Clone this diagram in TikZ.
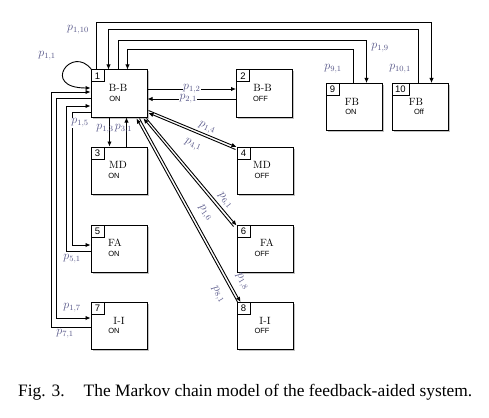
\documentclass[tikz,border=0pt]{standalone}
\usepackage{fontspec}
\newfontfamily\capfont{Liberation Serif}
\newfontfamily\sansf{Liberation Sans}
\usetikzlibrary{arrows.meta,calc,shadows}
\definecolor{labc}{RGB}{85,85,135}
\begin{document}
\begin{tikzpicture}[x=1pt,y=-1pt,
 state/.style={draw,line width=1pt,fill=white,minimum width=56pt,minimum height=47pt,inner sep=0pt,
   drop shadow={shadow xshift=1.5pt,shadow yshift=-1.5pt,fill=black!40,opacity=0.6}},
 num/.style={draw,line width=0.8pt,fill=white,minimum width=13pt,minimum height=12pt,inner sep=0pt,anchor=north west,font=\sansf\fontsize{9.5}{9.5}\selectfont},
 ttl/.style={inner sep=0pt,font=\fontsize{10.5}{10.5}\selectfont},
 sub/.style={inner sep=0pt,font=\sansf\fontsize{7.5}{7.5}\selectfont},
 lab/.style={text=labc,font=\fontsize{11.5}{11.5}\selectfont,inner sep=0pt},
 wlab/.style={lab,fill=white,inner sep=0.5pt},
 arr/.style={line width=0.9pt,-{Latex[length=5pt,width=4.5pt]}}]
\useasboundingbox (0,0) rectangle (489,417);

% states
\node[state] (b1) at (119,93.5) {};
\node[state] (b2) at (264.5,93.5) {};
\node[state] (b3) at (119,170.5) {};
\node[state] (b4) at (265,170.5) {};
\node[state] (b5) at (119,248.5) {};
\node[state] (b6) at (265,248.5) {};
\node[state] (b7) at (119,326) {};
\node[state] (b8) at (265,326) {};
\node[state] (b9) at (354,107) {};
\node[state] (b10) at (420,107) {};

\node[num] (n1) at (b1.north west) {1};
\node[num] (n2) at (b2.north west) {2};
\node[num] (n3) at (b3.north west) {3};
\node[num] (n4) at (b4.north west) {4};
\node[num] (n5) at (b5.north west) {5};
\node[num] (n6) at (b6.north west) {6};
\node[num] (n7) at (b7.north west) {7};
\node[num] (n8) at (b8.north west) {8};
\node[num] (n9) at (b9.north west) {9};
\node[num,minimum width=17pt] (n10) at (b10.north west) {10};

\node[ttl] (t1) at ($(b1.north)+(-1,18.5)$) {B-B};
\node[sub] (s1) at ($(b1.north)+(-4,29)$) {ON};
\node[ttl] (t2) at ($(b2.north)+(-2,18.5)$) {B-B};
\node[sub] (s2) at ($(b2.north)+(-4,29)$) {OFF};
\node[ttl] (t3) at ($(b3.north)+(-1,18.5)$) {MD};
\node[sub] (s3) at ($(b3.north)+(-5,29)$) {ON};
\node[ttl] (t4) at ($(b4.north)+(-3,18.5)$) {MD};
\node[sub] (s4) at ($(b4.north)+(-3,29)$) {OFF};
\node[ttl] (t5) at ($(b5.north)+(-4,18.5)$) {FA};
\node[sub] (s5) at ($(b5.north)+(-5,29)$) {ON};
\node[ttl] (t6) at ($(b6.north)+(2,18.5)$) {FA};
\node[sub] (s6) at ($(b6.north)+(-3,29)$) {OFF};
\node[ttl] (t7) at ($(b7.north)+(0,18.5)$) {I-I};
\node[sub] (s7) at ($(b7.north)+(-5,29)$) {ON};
\node[ttl] (t8) at ($(b8.north)+(0,18.5)$) {I-I};
\node[sub] (s8) at ($(b8.north)+(-3,29)$) {OFF};
\node[ttl] (t9) at ($(b9.north)+(-2,18.5)$) {FB};
\node[sub] (s9) at ($(b9.north)+(-3,29)$) {ON};
\node[ttl] (t10) at ($(b10.north)+(-4,18.5)$) {FB};
\node[sub] (s10) at ($(b10.north)+(-1,29)$) {Off};

% self loop
\draw[arr] ($(b1.north west)+(1,0)$) .. controls (72,44) and (40,88) .. ($(b1.west)+(0,-5.5)$);
\node[lab] (l11) at (47,56) {$p_{1,1}$};

% 1 <-> 2
\draw[arr] ($(b1.east)+(0,-4.5)$) -- node[wlab] (l12) {$p_{1,2}$} ($(b2.west)+(0,-4.5)$);
\draw[arr] ($(b2.west)+(0,5.5)$) -- node[wlab,pos=0.54] (l21) {$p_{2,1}$} ($(b1.east)+(0,5.5)$);

% 1 <-> 3
\draw[arr] ($(b1.south west)+(19,0)$) -- ($(b3.north west)+(19,0)$);
\draw[arr] ($(b3.north west)+(36,0)$) -- ($(b1.south west)+(36,0)$);
\node[lab] (l13) at (105,129) {$p_{1,3}$};
\node[lab] (l31) at (123.5,129) {$p_{3,1}$};

% top: 9 and 10
\draw[arr] ($(b1.north west)+(6,0)$) -- ++(0,-47) -| ($(b10.north west)+(40,0)$);
\draw[arr] ($(b10.north west)+(27,0)$) -- ++(0,-54) -| ($(b1.north west)+(18,0)$);
\draw[arr] ($(b1.north west)+(28,0)$) -- ++(0,-29) -| ($(b9.north west)+(41,0)$);
\draw[arr] ($(b9.north west)+(28,0)$) -- ++(0,-34) -| ($(b1.north west)+(37,0)$);
\node[lab] (l110) at (78,30) {$p_{1,10}$};
\node[lab] (l101) at (400,69) {$p_{10,1}$};
\node[lab] (l19) at (380,48) {$p_{1,9}$};
\node[lab] (l91) at (333,69) {$p_{9,1}$};

% left: 5 and 7
\draw[arr] ($(b7.west)+(0,1)$) -- ++(-39,0) |- ($(b1.west)+(0,-1.5)$);
\draw[arr] ($(b1.west)+(0,4.5)$) -- ++(-34,0) |- ($(b7.west)+(0,-8)$);
\draw[arr] ($(b5.west)+(0,2.5)$) -- ++(-24,0) |- ($(b1.west)+(0,12.5)$);
\draw[arr] ($(b1.west)+(0,18.5)$) -- ++(-18,0) |- ($(b5.west)+(0,-3.5)$);
\node[wlab] (l15) at (80,123) {$p_{1,5}$};
\node[lab] (l51) at (72,259) {$p_{5,1}$};
\node[lab] (l17) at (72,308) {$p_{1,7}$};
\node[lab] (l71) at (65,334) {$p_{7,1}$};

% diagonals: 4
\draw[arr] ($(b1.south east)+(1,-7)$) -- ($(b4.north west)+(0,0.5)$);
\draw[arr] ($(b4.north west)+(-1,3)$) -- ($(b1.south east)+(1,-4.5)$);
\node[lab,rotate=-22.6] (l14) at (207,128) {$p_{1,4}$};
\node[lab,rotate=-22.6] (l41) at (193,145) {$p_{4,1}$};

% diagonals: 6
\draw[arr] ($(b1.south east)+(-1,1)$) -- ($(b6.north west)+(0,1)$);
\draw[arr] ($(b6.north west)+(-3,2)$) -- ($(b1.south east)+(-4,1)$);
\node[lab,rotate=-52] (l61) at (225,201) {$p_{6,1}$};
\node[lab,rotate=-55] (l16) at (205,213) {$p_{1,6}$};

% diagonals: 8
\draw[arr] ($(b1.south east)+(-8,1)$) -- ($(b8.north west)+(4,0)$);
\draw[arr] ($(b8.north west)+(1,0)$) -- ($(b1.south east)+(-11,1)$);
\node[lab,rotate=-60] (l18) at (242,282) {$p_{1,8}$};
\node[lab,rotate=-60] (l81) at (218,295) {$p_{8,1}$};

% caption
\node[anchor=west,inner sep=0pt,font=\capfont\fontsize{17.4}{17.4}\selectfont] (cap) at (18,392)
 {Fig. 3.\hspace{1.1em}The Markov chain model of the feedback-aided system.};
\end{tikzpicture}
\end{document}
